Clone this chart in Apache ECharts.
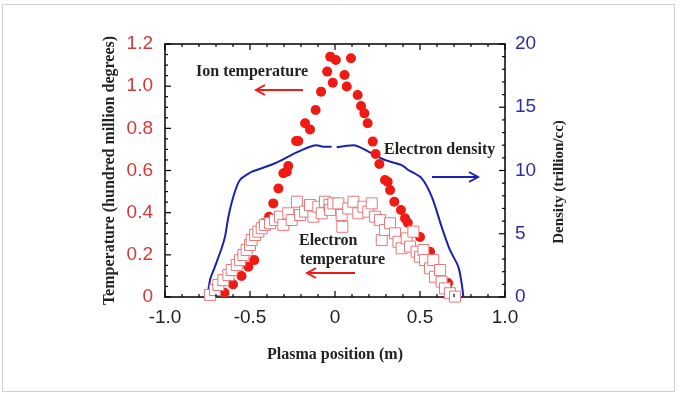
<!DOCTYPE html>
<html>
<head>
<meta charset="utf-8">
<script src="https://cdn.jsdelivr.net/npm/echarts@6/dist/echarts.min.js"></script>
<style>
  html, body { margin: 0; padding: 0; background: #fff; }
  #chart { width: 680px; height: 396px; }
</style>
</head>
<body>
<div id="chart"></div>
<script>
// tick labels
var xTickLabels = ['-1.0', '-0.5', '0', '0.5', '1.0'];
var tempTickLabels = ['0', '0.2', '0.4', '0.6', '0.8', '1.0', '1.2'];
var densTickLabels = ['0', '5', '10', '15', '20'];

// ion temperature (filled circles) [position, temperature]
var ionTemp = [
  [-0.65, 0.02], [-0.60, 0.06], [-0.55, 0.10], [-0.51, 0.144], [-0.475, 0.175],
  [-0.422, 0.35], [-0.388, 0.381], [-0.363, 0.444], [-0.333, 0.515], [-0.304, 0.587],
  [-0.284, 0.594], [-0.275, 0.621], [-0.229, 0.74], [-0.216, 0.74], [-0.176, 0.824],
  [-0.147, 0.795], [-0.114, 0.887], [-0.082, 0.974], [-0.046, 1.069], [-0.028, 1.14],
  [-0.013, 1.016], [0.005, 1.124], [0.056, 1.053], [0.069, 0.998], [0.094, 1.132],
  [0.133, 0.958], [0.153, 0.906], [0.173, 0.871], [0.192, 0.824], [0.222, 0.737],
  [0.239, 0.678], [0.261, 0.631], [0.294, 0.555], [0.31, 0.547], [0.324, 0.507],
  [0.349, 0.452], [0.388, 0.413], [0.412, 0.373], [0.428, 0.352], [0.50, 0.285],
  [0.559, 0.215], [0.62, 0.12], [0.665, 0.066], [0.665, 0.033]
];

// electron temperature (open squares)
var elecTemp = [
  [-0.735, 0.01], [-0.706, 0.033], [-0.686, 0.057], [-0.657, 0.08], [-0.627, 0.104],
  [-0.608, 0.128], [-0.578, 0.152], [-0.559, 0.175], [-0.539, 0.199], [-0.52, 0.223],
  [-0.50, 0.247], [-0.49, 0.27], [-0.47, 0.294], [-0.451, 0.31], [-0.431, 0.326],
  [-0.412, 0.342], [-0.382, 0.35], [-0.353, 0.365], [-0.324, 0.381], [-0.304, 0.342],
  [-0.275, 0.397], [-0.255, 0.365], [-0.224, 0.452], [-0.206, 0.389], [-0.176, 0.405],
  [-0.147, 0.436], [-0.127, 0.381], [-0.098, 0.428], [-0.078, 0.397], [-0.059, 0.452],
  [-0.033, 0.436], [-0.029, 0.413], [-0.01, 0.444], [0.02, 0.444], [0.039, 0.389],
  [0.043, 0.333], [0.078, 0.42], [0.108, 0.452], [0.137, 0.397], [0.167, 0.428],
  [0.196, 0.405], [0.216, 0.444], [0.235, 0.381], [0.265, 0.365], [0.275, 0.27],
  [0.294, 0.318], [0.324, 0.35], [0.353, 0.302], [0.373, 0.262], [0.392, 0.231],
  [0.422, 0.278], [0.441, 0.239], [0.461, 0.31], [0.48, 0.215], [0.50, 0.191],
  [0.52, 0.223], [0.529, 0.175], [0.559, 0.136], [0.578, 0.175], [0.588, 0.096],
  [0.618, 0.128], [0.627, 0.073], [0.647, 0.041], [0.676, 0.018], [0.706, 0.002]
];

// electron density (line, right axis)
var elecDensity = [
  [-0.749, 0], [-0.735, 1.34], [-0.706, 2.4], [-0.667, 3.85], [-0.647, 4.77],
  [-0.627, 6.35], [-0.598, 7.93], [-0.559, 9.25], [-0.49, 9.9], [-0.461, 10.04],
  [-0.353, 10.57], [-0.216, 11.49], [-0.108, 12.0], [-0.069, 11.88], [-0.02, 11.88],
  [0, '-'],
  [0.01, 11.83], [0.108, 12.0], [0.196, 11.49], [0.294, 10.83], [0.392, 10.43],
  [0.431, 10.04], [0.51, 9.38], [0.569, 7.93], [0.627, 5.56], [0.676, 3.72],
  [0.725, 2.4], [0.745, 1.08], [0.755, 0]
];

var serif = '"Liberation Serif", "DejaVu Serif", serif';
var sans = '"Liberation Sans", Arial, sans-serif';
var red = '#f01a14';
var blue = '#1c22a8';

// frame ticks: [value, side (0 = bottom+top, 1 = left), length]
var frameTicks = [];
for (var i = -10; i <= 10; i++) frameTicks.push([i / 10, 0, i % 5 === 0 ? 6 : 3]);
for (var j = 0; j <= 24; j++) frameTicks.push([j * 0.05, 1, j % 4 === 0 ? 6 : 3]);
var rightTicks = [];
for (var k = 0; k <= 20; k++) rightTicks.push([k, 2, k % 5 === 0 ? 6 : 3]);

function tickItem(params, api) {
  var v = api.value(0), side = api.value(1), len = api.value(2);
  var st = { stroke: '#000', lineWidth: 1.2 };
  if (side === 0) {
    var b = api.coord([v, 0]), t = api.coord([v, 1.2]);
    return { type: 'group', children: [
      { type: 'line', shape: { x1: b[0], y1: b[1], x2: b[0], y2: b[1] - len }, style: st },
      { type: 'line', shape: { x1: t[0], y1: t[1], x2: t[0], y2: t[1] + len }, style: st }
    ] };
  }
  if (side === 1) {
    var l = api.coord([-1, v]);
    return { type: 'line', shape: { x1: l[0], y1: l[1], x2: l[0] + len, y2: l[1] }, style: st };
  }
  var r = api.coord([1, v]);
  return { type: 'line', shape: { x1: r[0], y1: r[1], x2: r[0] - len, y2: r[1] }, style: st };
}

function arrow(x1, x2, y, color) {
  var dir = x2 > x1 ? 1 : -1;
  return {
    type: 'group',
    children: [
      { type: 'polyline', shape: { points: [[x1, y], [x2, y]] }, style: { stroke: color, lineWidth: 2 } },
      { type: 'polyline', shape: { points: [[x2 - dir * 9, y - 5], [x2, y], [x2 - dir * 9, y + 5]] },
        style: { stroke: color, lineWidth: 2, fill: null } }
    ]
  };
}

function axisLine() {
  return { show: true, onZero: false, lineStyle: { color: '#000', width: 1.5 } };
}

var chart = echarts.init(document.getElementById('chart'));

chart.setOption({
  backgroundColor: '#fff',
  animation: false,
  grid: { left: 165, right: 175, top: 44, bottom: 99 },
  xAxis: [{
    type: 'value', min: -1, max: 1, interval: 0.5, position: 'bottom',
    name: 'Plasma position (m)', nameLocation: 'middle', nameGap: 50,
    nameTextStyle: { fontFamily: serif, fontWeight: 'bold', fontSize: 16, color: '#222' },
    axisLine: axisLine(), axisTick: { show: false },
    axisLabel: { margin: 11, fontFamily: sans, fontSize: 19, color: '#222',
      formatter: function (v) { return xTickLabels[Math.round((v + 1) / 0.5)]; } },
    splitLine: { show: false }
  }, {
    type: 'value', min: -1, max: 1, interval: 0.5, position: 'top',
    axisLine: axisLine(), axisTick: { show: false },
    axisLabel: { show: false }, splitLine: { show: false }
  }],
  yAxis: [{
    type: 'value', min: 0, max: 1.2, interval: 0.2, position: 'left',
    name: 'Temperature (hundred million degrees)', nameLocation: 'middle', nameGap: 47, nameRotate: 90,
    nameTextStyle: { fontFamily: serif, fontWeight: 'bold', fontSize: 16, color: '#222' },
    axisLine: axisLine(), axisTick: { show: false },
    axisLabel: { margin: 12, fontFamily: sans, fontSize: 19, color: '#d23a3a',
      formatter: function (v) { return tempTickLabels[Math.round(v / 0.2)]; } },
    splitLine: { show: false }
  }, {
    type: 'value', min: 0, max: 20, interval: 5, position: 'right',
    axisLine: axisLine(), axisTick: { show: false },
    axisLabel: { margin: 10, fontFamily: sans, fontSize: 19, color: '#2b2fa0',
      formatter: function (v) { return densTickLabels[Math.round(v / 5)]; } },
    splitLine: { show: false }
  }],
  series: [{
    name: 'Electron density', type: 'line', xAxisIndex: 0, yAxisIndex: 1,
    data: elecDensity, showSymbol: false, smooth: 0.3, connectNulls: false,
    lineStyle: { color: blue, width: 2 }, z: 2
  }, {
    name: 'Ion temperature', type: 'scatter', xAxisIndex: 0, yAxisIndex: 0,
    data: ionTemp, symbol: 'circle', symbolSize: 10,
    itemStyle: { color: red, opacity: 1 }, z: 3
  }, {
    name: 'Electron temperature', type: 'scatter', xAxisIndex: 0, yAxisIndex: 0,
    data: elecTemp, symbol: 'rect', symbolSize: 11,
    itemStyle: { color: '#fff', borderColor: '#e8787a', borderWidth: 1, opacity: 1 }, z: 4
  }, {
    type: 'custom', xAxisIndex: 0, yAxisIndex: 0, data: frameTicks,
    renderItem: tickItem, silent: true, z: 5
  }, {
    type: 'custom', xAxisIndex: 0, yAxisIndex: 1, data: rightTicks,
    renderItem: tickItem, silent: true, z: 5
  }],
  graphic: [
    { type: 'rect', shape: { x: 2.5, y: 4.5, width: 672, height: 387 },
      style: { fill: null, stroke: '#cfcfcf', lineWidth: 1 }, z: -10 },
    { type: 'text', x: 559, y: 182, rotation: Math.PI / 2,
      style: { text: 'Density (trillion/cc)', font: 'bold 15px ' + serif, fill: '#222',
        textAlign: 'center', textVerticalAlign: 'middle' } },
    { type: 'text', x: 196, y: 72, z: 10,
      style: { text: 'Ion temperature', font: 'bold 16px ' + serif, fill: '#222', textVerticalAlign: 'middle' } },
    { type: 'text', x: 384, y: 150, z: 10,
      style: { text: 'Electron density', font: 'bold 16px ' + serif, fill: '#222', textVerticalAlign: 'middle' } },
    { type: 'text', x: 299, y: 241, z: 10,
      style: { text: 'Electron', font: 'bold 16px ' + serif, fill: '#222', textVerticalAlign: 'middle' } },
    { type: 'text', x: 300, y: 260, z: 10,
      style: { text: 'temperature', font: 'bold 16px ' + serif, fill: '#222', textVerticalAlign: 'middle' } },
    arrow(303, 256, 90, red),
    arrow(432, 478, 177, blue),
    arrow(355, 307, 273, red)
  ]
});
</script>
</body>
</html>
